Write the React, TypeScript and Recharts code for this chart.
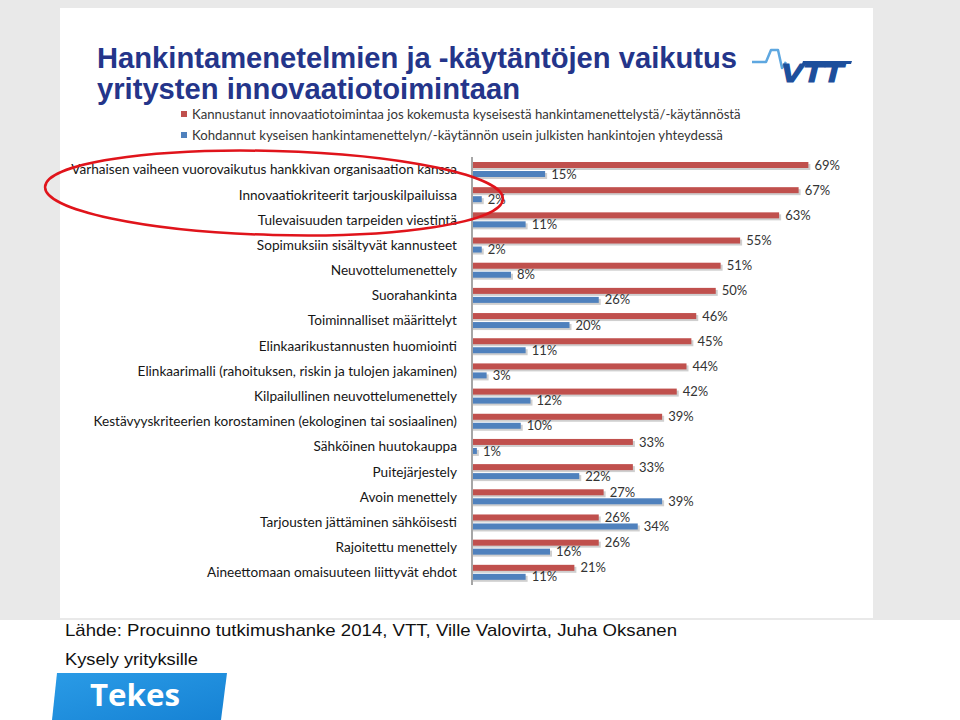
import React from 'react';
import { BarChart, Bar, XAxis, YAxis, LabelList, Legend } from 'recharts';

const categories = [
  'Varhaisen vaiheen vuorovaikutus hankkivan organisaation kanssa',
  'Innovaatiokriteerit tarjouskilpailuissa',
  'Tulevaisuuden tarpeiden viestintä',
  'Sopimuksiin sisältyvät kannusteet',
  'Neuvottelumenettely',
  'Suorahankinta',
  'Toiminnalliset määrittelyt',
  'Elinkaarikustannusten huomiointi',
  'Elinkaarimalli (rahoituksen, riskin ja tulojen jakaminen)',
  'Kilpailullinen neuvottelumenettely',
  'Kestävyyskriteerien korostaminen (ekologinen tai sosiaalinen)',
  'Sähköinen huutokauppa',
  'Puitejärjestely',
  'Avoin menettely',
  'Tarjousten jättäminen sähköisesti',
  'Rajoitettu menettely',
  'Aineettomaan omaisuuteen liittyvät ehdot',
];

const encouraged = [69, 67, 63, 55, 51, 50, 46, 45, 44, 42, 39, 33, 33, 27, 26, 26, 21];
const applied = [15, 2, 11, 2, 8, 26, 20, 11, 3, 12, 10, 1, 22, 39, 34, 16, 11];

const seriesNames = [
  'Kannustanut innovaatiotoimintaa jos kokemusta kyseisestä hankintamenettelystä/-käytännöstä',
  'Kohdannut kyseisen hankintamenettelyn/-käytännön usein julkisten hankintojen yhteydessä',
];

const titleLines = ['Hankintamenetelmien ja -käytäntöjen vaikutus', 'yritysten innovaatiotoimintaan'];
const footerLines = [
  'Lähde: Procuinno tutkimushanke 2014, VTT, Ville Valovirta, Juha Oksanen',
  'Kysely yrityksille',
];

const data = categories.map((name, i) => ({ name, encouraged: encouraged[i], applied: applied[i] }));

const RED = '#c0504d';
const BLUE = '#4f81bd';
const LABEL_FONT = 'Lato, "Open Sans", sans-serif';

const ShadowBar = (props: any) => {
  const { x, y, width, height, fill } = props;
  if (!width || width <= 0) return null;
  return (
    <g>
      <rect x={x + 1} y={y + 2} width={width + 1} height={height} fill="#cfcfcf" />
      <rect x={x} y={y} width={width} height={height} fill={fill} />
    </g>
  );
};

const CategoryTick = (props: any) => {
  const { x, y, payload } = props;
  return (
    <text x={x} y={y} dy={4.8} textAnchor="end" fontFamily={LABEL_FONT} fontSize={13.6} fill="#161616">
      {payload.value}
    </text>
  );
};

const renderLegend = (props: any) => (
  <div style={{ fontFamily: LABEL_FONT, fontSize: 13.2, color: '#363636' }}>
    {(props.payload || []).map((p: any, i: number) => (
      <div key={i} style={{ display: 'flex', alignItems: 'center', height: 21 }}>
        <span style={{ width: 6, height: 6, background: p.color, marginRight: 5, display: 'inline-block' }} />
        <span>{p.value}</span>
      </div>
    ))}
  </div>
);

export default function App() {
  return (
    <div style={{ position: 'absolute', left: 0, top: 0, width: 960, height: 720, background: '#ffffff', overflow: 'hidden' }}>
      <div style={{ position: 'absolute', left: 0, top: 0, width: 960, height: 620, background: '#e9e9e9' }} />
      <div style={{ position: 'absolute', left: 60, top: 8, width: 813, height: 610, background: '#ffffff' }} />
      <div style={{ position: 'absolute', left: 0, top: 0 }}>
        <BarChart
          width={960}
          height={720}
          layout="vertical"
          data={data}
          margin={{ top: 157, right: 98, bottom: 135, left: 72 }}
          barCategoryGap={5}
          barGap={3}
        >
          <XAxis type="number" domain={[0, 80]} hide />
          <YAxis
            type="category"
            dataKey="name"
            width={400}
            interval={0}
            tickLine={false}
            tickMargin={9}
            axisLine={{ stroke: '#a6a6a6', strokeWidth: 2 }}
            tick={<CategoryTick />}
          />
          <Legend
            layout="vertical"
            align="center"
            verticalAlign="middle"
            content={renderLegend}
            wrapperStyle={{ position: 'absolute', left: 181, top: 103, width: 700, height: 44 }}
          />
          <Bar dataKey="encouraged" name={seriesNames[0]} fill={RED} barSize={6} shape={<ShadowBar />} isAnimationActive={false}>
            <LabelList dataKey="encouraged" position="right" offset={6} formatter={(v: any) => `${v}%`} style={{ fontFamily: LABEL_FONT, fontSize: 13, fill: '#333333' }} />
          </Bar>
          <Bar dataKey="applied" name={seriesNames[1]} fill={BLUE} barSize={6} shape={<ShadowBar />} isAnimationActive={false}>
            <LabelList dataKey="applied" position="right" offset={6} formatter={(v: any) => `${v}%`} style={{ fontFamily: LABEL_FONT, fontSize: 13, fill: '#333333' }} />
          </Bar>
        </BarChart>
      </div>
      <svg width={960} height={720} style={{ position: 'absolute', left: 0, top: 0, pointerEvents: 'none' }}>
        <defs>
          <linearGradient id="tekesGrad" x1="0" y1="0" x2="1" y2="1">
            <stop offset="0%" stopColor="#2a9be6" />
            <stop offset="100%" stopColor="#1682d4" />
          </linearGradient>
        </defs>
        <text x={97} y={68} fontFamily='"Liberation Sans Narrow", "Arial Narrow", "Liberation Sans", sans-serif' fontWeight="bold" fontSize={30} fill="#24358a" textLength={640} lengthAdjust="spacingAndGlyphs">
          {titleLines[0]}
        </text>
        <text x={97} y={99} fontFamily='"Liberation Sans Narrow", "Arial Narrow", "Liberation Sans", sans-serif' fontWeight="bold" fontSize={30} fill="#24358a" textLength={423} lengthAdjust="spacingAndGlyphs">
          {titleLines[1]}
        </text>
        {/* VTT logo */}
        <polyline points="752,62 766,62 771,50 778,50 782,68 786,62" fill="none" stroke="#5ea7e0" strokeWidth={2.5} strokeLinejoin="round" />
        <polygon points="803,61 852,61 851,64 802,64" fill="#1d4f9c" />
        <text x={781} y={82} fontFamily='"Liberation Sans", Arial, sans-serif' fontWeight="bold" fontStyle="italic" fontSize={26} fill="#1d4f9c" stroke="#1d4f9c" strokeWidth={1.2} textLength={62} lengthAdjust="spacingAndGlyphs">
          VTT
        </text>
        {/* annotation ellipse */}
        <ellipse cx={274} cy={193} rx={229} ry={42} fill="none" stroke="#e0141b" strokeWidth={2.5} transform="rotate(1.5 274 193)" />
        {/* footer */}
        <text x={65} y={636} fontFamily='"Liberation Sans", Arial, sans-serif' fontSize={17} fill="#111111" textLength={612} lengthAdjust="spacingAndGlyphs">
          {footerLines[0]}
        </text>
        <text x={65} y={665} fontFamily='"Liberation Sans", Arial, sans-serif' fontSize={17} fill="#111111" textLength={133} lengthAdjust="spacingAndGlyphs">
          {footerLines[1]}
        </text>
        <polygon points="57,673 227,673 221,720 52,720" fill="url(#tekesGrad)" />
        <text x={90} y={706} fontFamily='"Open Sans", Lato, sans-serif' fontWeight="bold" fontSize={30} fill="#ffffff" textLength={90} lengthAdjust="spacingAndGlyphs">
          Tekes
        </text>
      </svg>
    </div>
  );
}
